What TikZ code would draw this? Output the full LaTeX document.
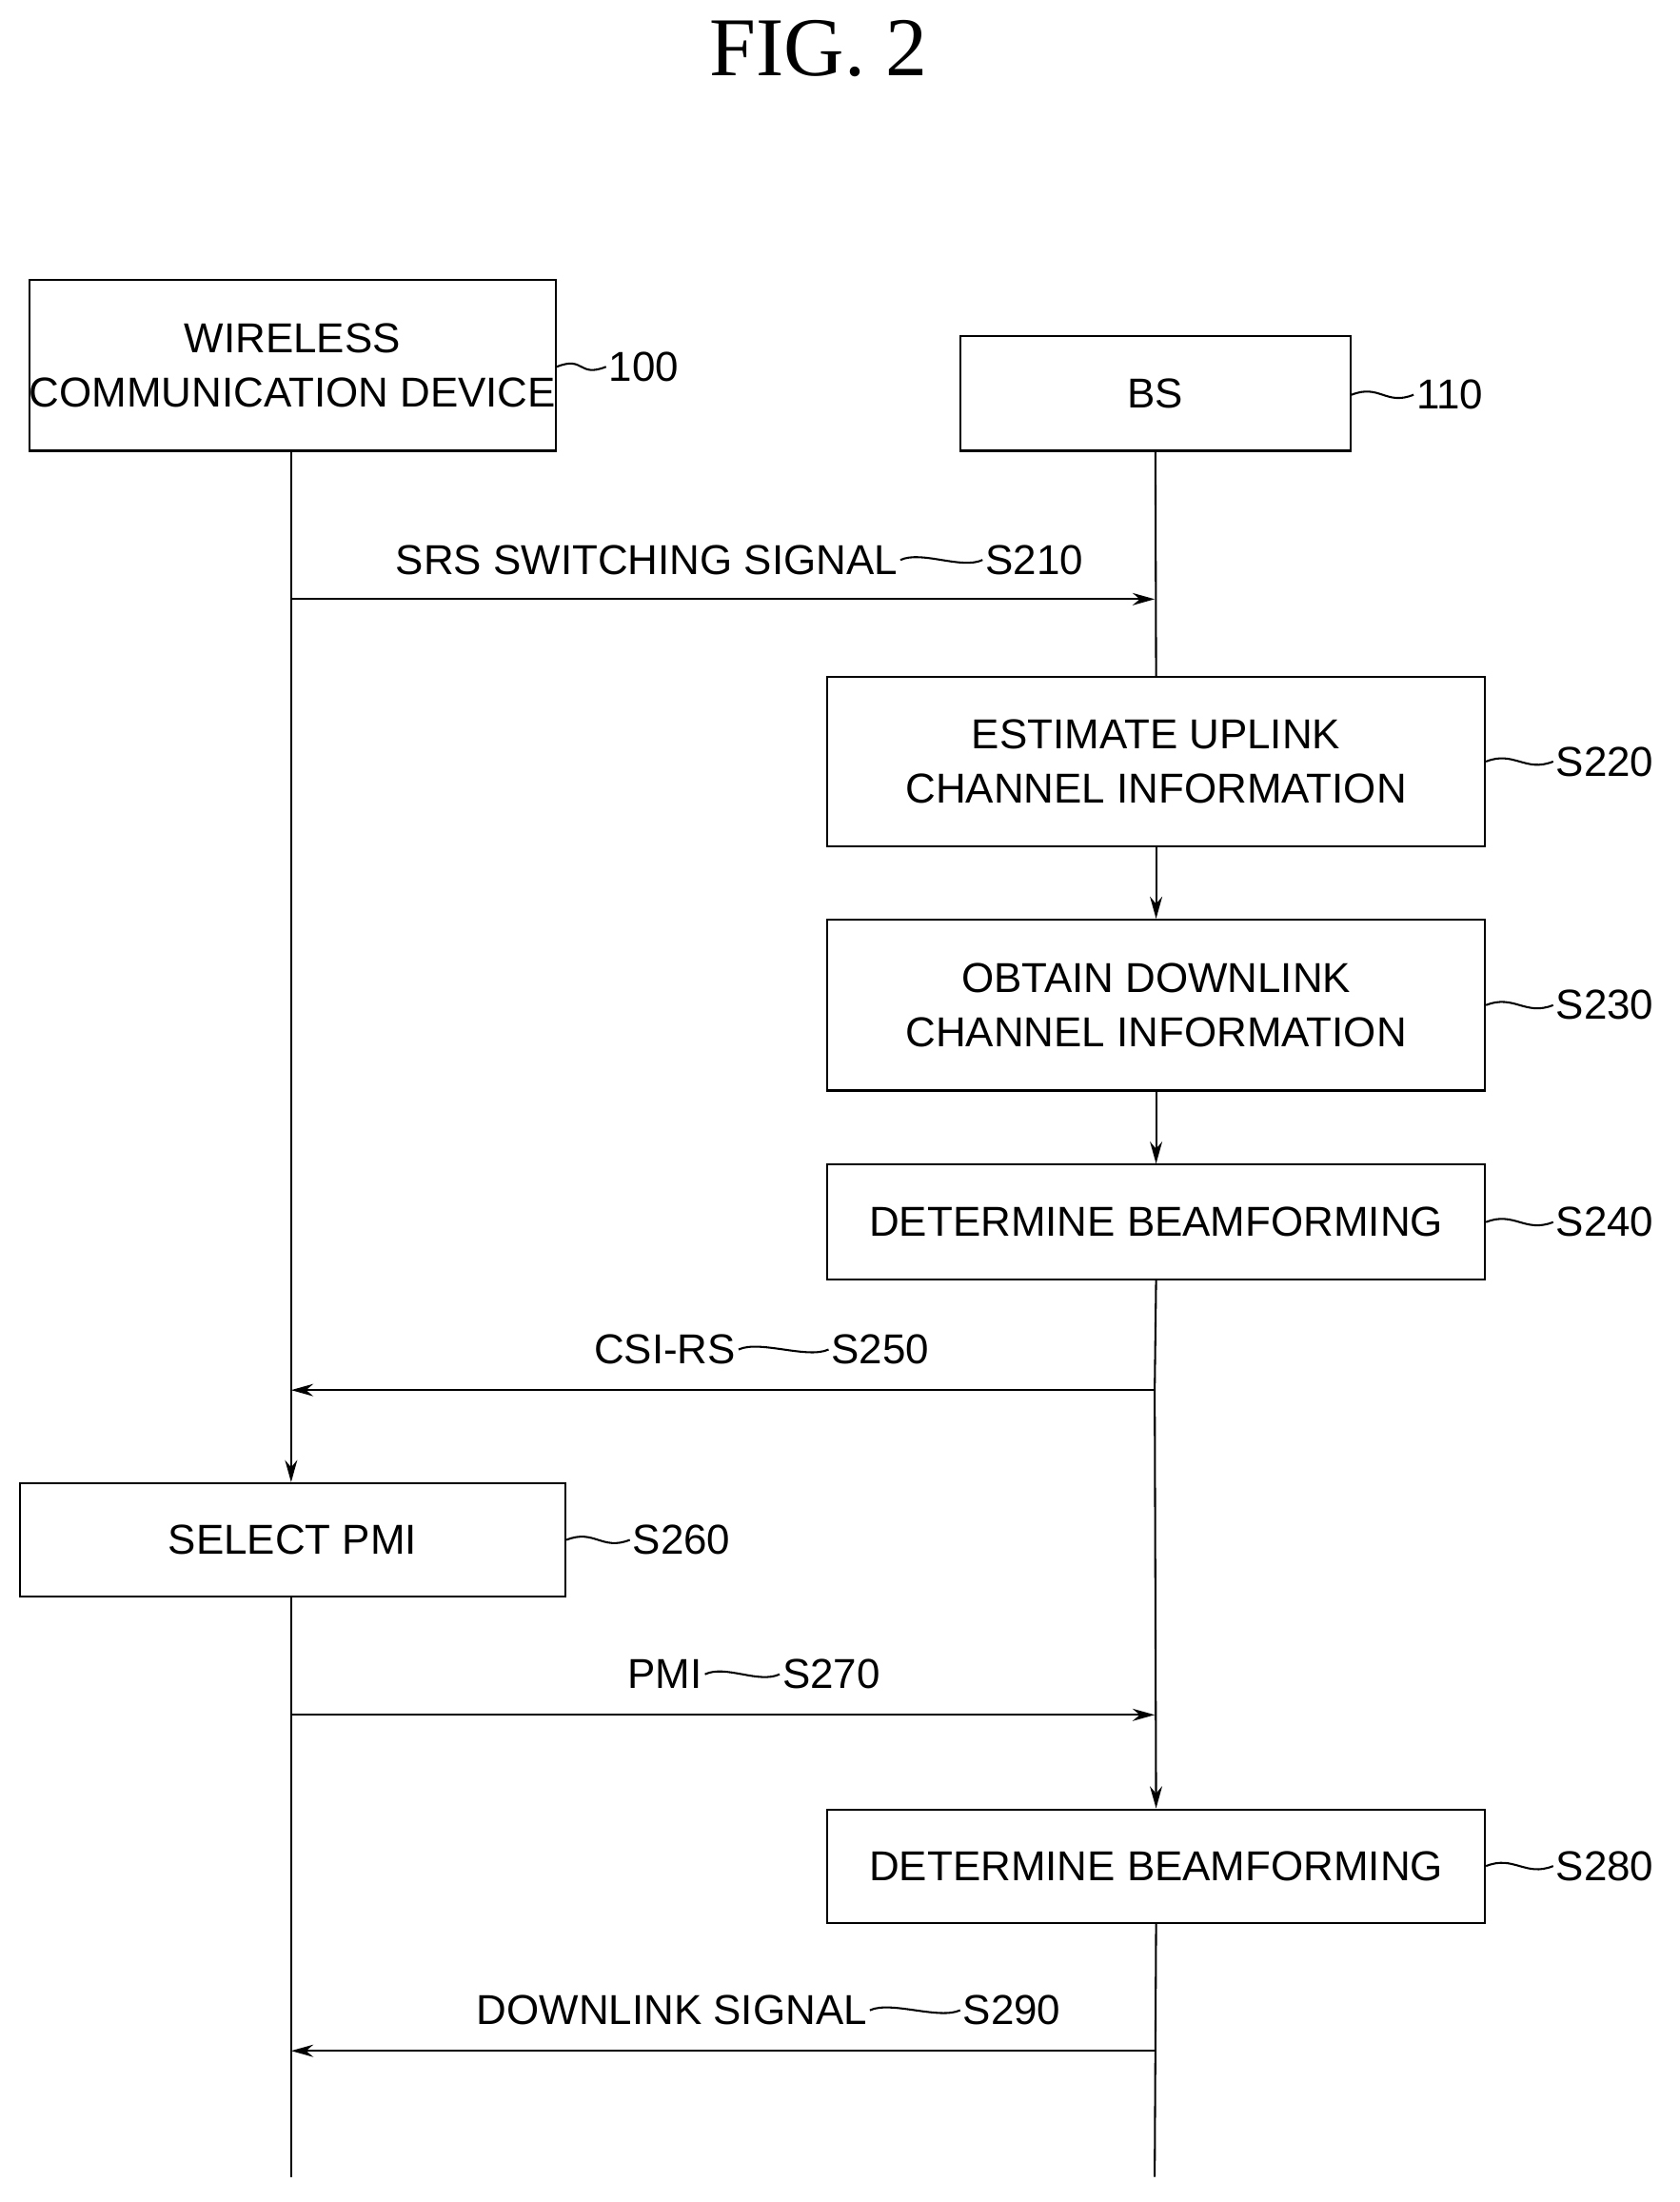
\documentclass[tikz,border=0pt]{standalone}
\usepackage{fontspec}
\setmainfont{Liberation Sans}
\newfontfamily\titlefont{Liberation Serif}
\usetikzlibrary{positioning,arrows.meta}
\begin{document}
\begin{tikzpicture}[
    x=0.02cm, y=-0.02cm,
    font=\fontsize{17}{22}\selectfont,
    proc/.style={draw, thick, align=center, inner sep=0pt},
    life/.style={thick},
    msg/.style={thick, -{Stealth[length=9pt, width=5pt]}},
    tag/.style={inner sep=1pt, anchor=west},
    lead/.style={thick}
  ]
  \useasboundingbox (0,0) rectangle (1200,1573);
  \node[font=\titlefont\fontsize{34}{40}\selectfont] (title) at (585,35) {FIG. 2};
  % participants
  \node[proc, minimum width=358*0.02cm, minimum height=122*0.02cm] (dev) at (209,261) {WIRELESS\\COMMUNICATION DEVICE};
  \node[proc, minimum width=279*0.02cm, minimum height=82*0.02cm] (bs) at (825.5,281) {BS};
  \node[tag] (t100) at (433,262) {100};
  \node[tag] (t110) at (1010,282) {110};
  \draw[lead] (dev.east |- t100) .. controls +(20,-8) and +(-20,8) .. (t100.west);
  \draw[lead] (bs.east |- t110) .. controls +(20,-8) and +(-20,8) .. (t110.west);
  % steps
  \node[proc, minimum width=470*0.02cm, minimum height=121*0.02cm] (s220) at (826,544) {ESTIMATE UPLINK\\CHANNEL INFORMATION};
  \node[proc, minimum width=470*0.02cm, minimum height=122*0.02cm] (s230) at (826,718) {OBTAIN DOWNLINK\\CHANNEL INFORMATION};
  \node[proc, minimum width=470*0.02cm, minimum height=82*0.02cm] (s240) at (826,873) {DETERMINE BEAMFORMING};
  \node[proc, minimum width=390*0.02cm, minimum height=81*0.02cm] (s260) at (209,1100) {SELECT PMI};
  \node[proc, minimum width=470*0.02cm, minimum height=81*0.02cm] (s280) at (826,1333) {DETERMINE BEAMFORMING};
  \foreach \n/\t in {s220/S220, s230/S230, s240/S240, s280/S280} {
    \node[tag, right=48*0.02cm of \n] (t\n) {\t};
    \draw[lead] (\n.east) .. controls +(20,-8) and +(-20,8) .. (t\n.west);
  }
  \node[tag] (ts260) at (450,1100) {S260};
  \draw[lead] (s260.east) .. controls +(20,-8) and +(-20,8) .. (ts260.west);
  % lifeline ends
  \coordinate (devend) at (208,1555);
  \coordinate (bsend) at (825,1555);
  \coordinate (m1l) at (208,428);  \coordinate (m1r) at (825,428);
  \coordinate (m2l) at (208,993);  \coordinate (m2r) at (825,993);
  \coordinate (m3l) at (208,1225); \coordinate (m3r) at (825,1225);
  \coordinate (m4l) at (208,1465); \coordinate (m4r) at (825,1465);
  \draw[life] (dev.south -| devend) -- (m1l);
  \draw[msg] (m1l) -- (s260.north -| devend);
  \draw[life] (s260.south -| devend) -- (devend);
  \draw[life] (bs.south) -- (s220.north);
  \draw[msg] (s220.south) -- (s230.north);
  \draw[msg] (s230.south) -- (s240.north);
  \draw[life] (s240.south) -- (m2r);
  \draw[msg] (m2r) -- (s280.north);
  \draw[life] (s280.south) -- (bsend);
  % messages
  \draw[msg] (m1l) -- (m1r);
  \draw[msg] (m2r) -- (m2l);
  \draw[msg] (m3l) -- (m3r);
  \draw[msg] (m4r) -- (m4l);
  \node[inner sep=1pt] (l210) at (462,400) {SRS SWITCHING SIGNAL};
  \node[tag] (t210) at (702,400) {S210};
  \node[inner sep=1pt] (l250) at (475,964) {CSI-RS};
  \node[tag] (t250) at (592,964) {S250};
  \node[inner sep=1pt] (l270) at (475,1196) {PMI};
  \node[tag] (t270) at (557,1196) {S270};
  \node[inner sep=1pt] (l290) at (480,1436) {DOWNLINK SIGNAL};
  \node[tag] (t290) at (686,1436) {S290};
  \foreach \a/\b in {l210/t210, l250/t250, l270/t270, l290/t290}
    \draw[lead] (\a.east) .. controls +(15,-7) and +(-15,7) .. (\b.west);
\end{tikzpicture}
\end{document}
